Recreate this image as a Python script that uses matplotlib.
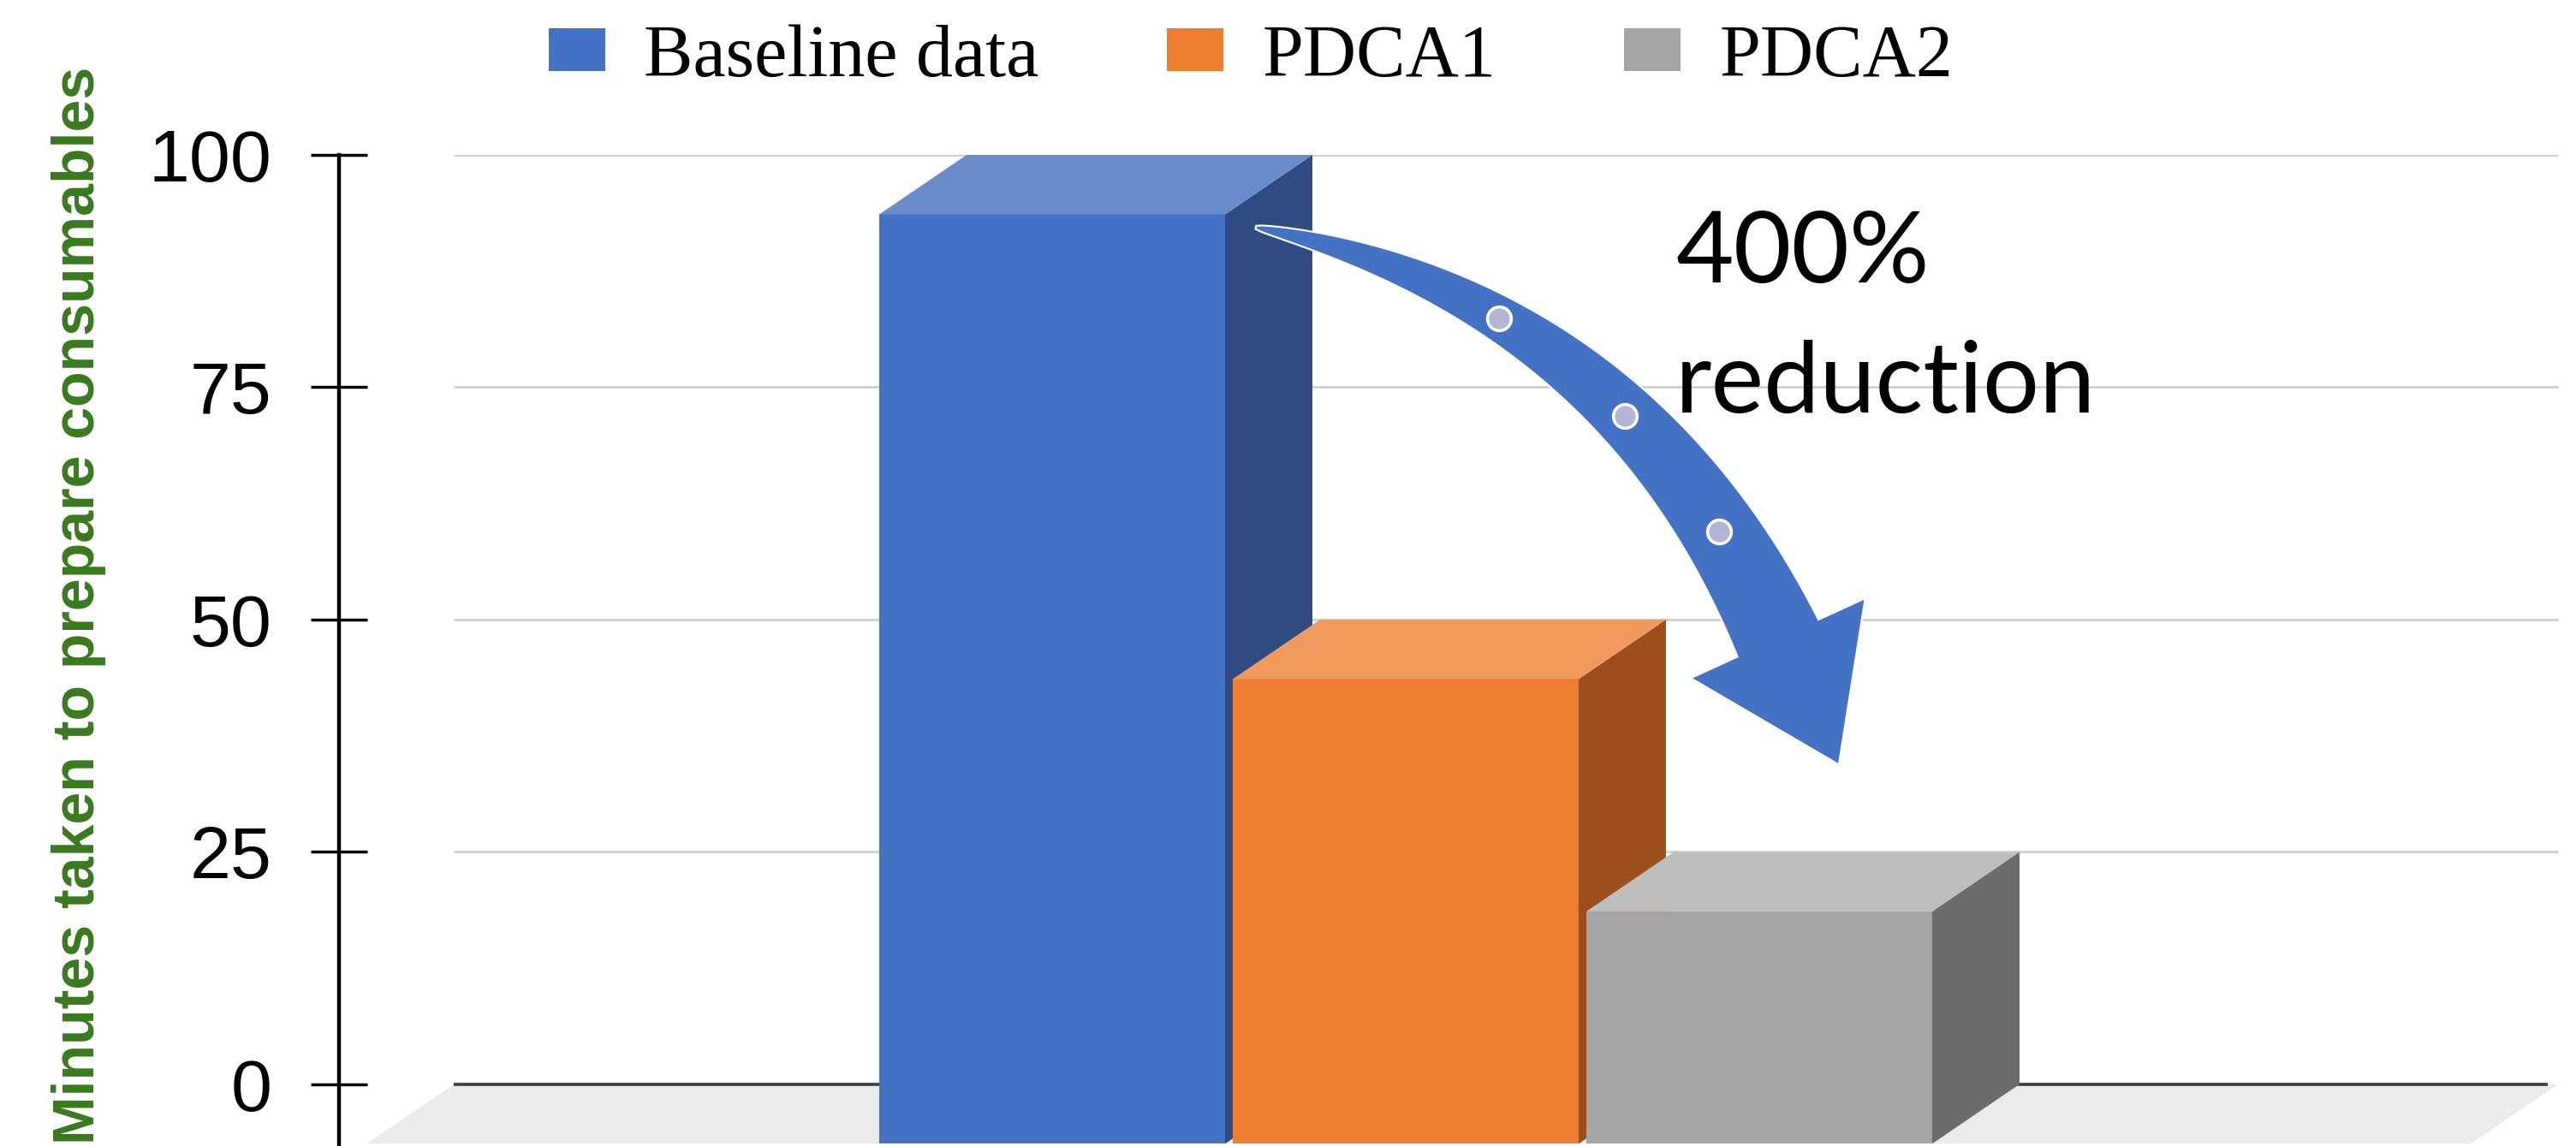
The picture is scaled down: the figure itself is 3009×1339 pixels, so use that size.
import numpy as np
import matplotlib
matplotlib.use("Agg")
import matplotlib.pyplot as plt
from matplotlib.patches import Polygon, Patch

# data
series = ["Baseline data", "PDCA1", "PDCA2"]
minutes = [100, 50, 25]
front_colors = ["#4472C4", "#ED7D31", "#A5A5A5"]
side_colors = ["#2F4B82", "#9C4E1D", "#6C6C6C"]
top_colors = ["#6A8CCB", "#F09A5E", "#BDBDBD"]
yticks = [0, 25, 50, 75, 100]
ylabel = "Minutes taken to prepare consumables"
note = "400%\nreduction"

# layout of the fake 3d bars
bar_pos = np.array([-1.0, 0.0, 1.0])
bar_w = 0.978
depth_x = 0.247   # depth offset in x units
depth_y = 6.4     # depth offset in minutes
wall_left, wall_right = -2.692, 3.259

# arrow annotation (data coords)
arrow_start = (-0.424, 92.2)
arrow_ctrl = (0.617, 84.2)
arrow_base = (1.053, 48.0)
arrow_tip = (1.225, 34.4)
note_xy = (0.763, 72.3)

W, H = 3009, 1339
fig = plt.figure(figsize=(W / 100, H / 100), dpi=100)
ax = fig.add_axes([396 / W, 0, 1 - 396 / W, 1 - 181 / H])
ax.set_xlim(-3.017, 3.31)
ax.set_ylim(-6.64, 100)

for s in ["top", "right", "bottom"]:
    ax.spines[s].set_visible(False)
ax.spines["left"].set_linewidth(3.2)
ax.set_xticks([])
ax.set_yticks(yticks)
ax.tick_params(axis="y", direction="inout", length=47, width=2.5, pad=33, labelsize=62)
for lab in ax.get_yticklabels():
    lab.set_fontfamily("Liberation Sans")

# floor and back wall grid
floor = Polygon([(wall_left, 0), (wall_right, 0), (wall_right - depth_x, -depth_y),
                 (wall_left - depth_x, -depth_y)], closed=True, fc="#EBEBEB", ec="none",
                zorder=1, clip_on=False)
ax.add_patch(floor)
ax.hlines(yticks[1:], wall_left, wall_right, color="#CFCFCF", lw=2, zorder=1.5)
ax.hlines(0, wall_left, wall_right - 0.03, color="#3C3C3C", lw=2.6, zorder=2)

# bars: front face via ax.bar, side and top faces as polygons
for i in range(len(series)):
    v = minutes[i]
    x0 = bar_pos[i] - bar_w / 2
    x1 = x0 + bar_w
    ax.bar(bar_pos[i], v, width=bar_w, bottom=-depth_y, color=front_colors[i],
           zorder=3 + i, clip_on=False)
    side = [(x1, -depth_y), (x1, v - depth_y), (x1 + depth_x, v), (x1 + depth_x, 0)]
    top = [(x0, v - depth_y), (x1, v - depth_y), (x1 + depth_x, v), (x0 + depth_x, v)]
    ax.add_patch(Polygon(side, closed=True, fc=side_colors[i], ec="none", zorder=3 + i))
    ax.add_patch(Polygon(top, closed=True, fc=top_colors[i], ec="none", zorder=3 + i))

# curved tapering arrow, built in pixel space then mapped back to data
T = ax.transData
P0, P1, P2, TIP = T.transform([arrow_start, arrow_ctrl, arrow_base, arrow_tip])
t = np.linspace(0, 1, 120)[:, None]
pts = (1 - t) ** 2 * P0 + 2 * t * (1 - t) * P1 + t ** 2 * P2
d = 2 * (1 - t) * (P1 - P0) + 2 * t * (P2 - P1)
d = d / np.linalg.norm(d, axis=1, keepdims=True)
n = np.column_stack([-d[:, 1], d[:, 0]])
half = 2 + 50 * t ** 0.7
left = pts + n * half
right = pts - n * half
nh = n[-1]
head = np.array([P2 + nh * 112, TIP, P2 - nh * 112])
outline = np.vstack([left, head, right[::-1]])
ax.add_patch(Polygon(T.inverted().transform(outline), closed=True, fc="#4472C4",
                     ec="white", lw=1.5, zorder=7))

tt = np.array([0.37, 0.61, 0.83])[:, None]
dots = (1 - tt) ** 2 * P0 + 2 * tt * (1 - tt) * P1 + tt ** 2 * P2
dots = T.inverted().transform(dots)
ax.scatter(dots[:, 0], dots[:, 1], s=400, c="#B5B5D5", edgecolors="white",
           linewidths=2.5, zorder=8)

ax.text(note_xy[0], note_xy[1], note, family=["Lato", "DejaVu Sans"], fontsize=84,
        ha="left", va="baseline", linespacing=1.55, zorder=9)

# y label
fig.text(92 / W, 1 - 78 / H, ylabel, rotation=90, ha="center", va="top",
         color="#3A7A1F", fontweight="bold", fontsize=49,
         family=["Liberation Sans Narrow", "Liberation Sans"])

# legend
handles = [Patch(fc=c, ec="none") for c in front_colors]
fig.legend(handles, series, loc="center", bbox_to_anchor=(1461 / W, 1 - 68 / H),
           ncol=3, frameon=False, prop={"family": "Liberation Serif", "size": 62},
           handlelength=0.77, handleheight=0.51, handletextpad=0.52,
           columnspacing=1.74, borderaxespad=0, borderpad=0)

fig.savefig("out.png", dpi=100, facecolor="white")
